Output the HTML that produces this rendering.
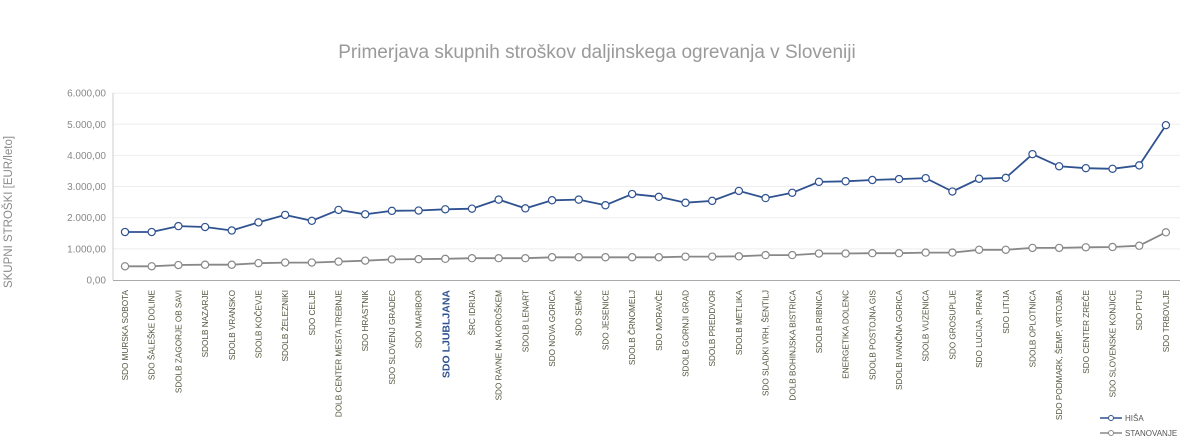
<!DOCTYPE html>
<html><head><meta charset="utf-8"><style>
html,body{margin:0;padding:0;background:#fff;}
svg{display:block;font-family:"Liberation Sans",sans-serif;}
</style></head><body>
<svg id="c" width="1200" height="445" xmlns="http://www.w3.org/2000/svg">
<text x="597" y="58" text-anchor="middle" font-size="19" fill="#9a9a9a">Primerjava skupnih stroškov daljinskega ogrevanja v Sloveniji</text>
<text transform="translate(12,212) rotate(-90)" text-anchor="middle" font-size="11.5" fill="#8a8a8a">SKUPNI STROŠKI [EUR/leto]</text>
<g id="grid"></g>
<g id="lab"></g>
<g id="ser"></g>
<g>
<line x1="1100" y1="418" x2="1122" y2="418" stroke="#2f5290" stroke-width="1.5"/><circle cx="1111" cy="418" r="2.5" fill="#fff" stroke="#2f5290"/>
<text x="1125" y="421" font-size="8" fill="#555">HIŠA</text>
<line x1="1100" y1="433" x2="1122" y2="433" stroke="#888" stroke-width="1.5"/><circle cx="1111" cy="433" r="2.5" fill="#fff" stroke="#888"/>
<text x="1125" y="436" font-size="8" fill="#555">STANOVANJE</text>
</g>
</svg>
<script>
var NS="http://www.w3.org/2000/svg";
function el(p,t,a,txt){var e=document.createElementNS(NS,t);for(var k in a)e.setAttribute(k,a[k]);if(txt!=null)e.textContent=txt;p.appendChild(e);return e;}
var y0=280,py=31.15,x0=125,dx=26.69;
function Y(v){return y0-v/1000*py;}
var g=document.getElementById("grid");
for(var i=0;i<=6;i++){var y=Y(i*1000);
 if(i>0)el(g,"line",{x1:113,x2:1180,y1:y,y2:y,stroke:"#eeeeee","stroke-width":1});
 el(g,"text",{x:106,y:y+3.5,"text-anchor":"end","font-size":"10","fill":"#888"},i==0?"0,00":i+".000,00");}
el(g,"line",{x1:113,x2:113,y1:93,y2:280,stroke:"#ccc"});
el(g,"line",{x1:113,x2:1180,y1:280.5,y2:280.5,stroke:"#aaa"});
var names=["SDO MURSKA SOBOTA","SDO ŠALEŠKE DOLINE","SDOLB ZAGORJE OB SAVI","SDOLB NAZARJE","SDOLB VRANSKO","SDOLB KOČEVJE","SDOLB ŽELEZNIKI","SDO CELJE","DOLB CENTER MESTA TREBNJE","SDO HRASTNIK","SDO SLOVENJ GRADEC","SDO MARIBOR","SDO LJUBLJANA","ŠRC IDRIJA","SDO RAVNE NA KOROŠKEM","SDOLB LENART","SDO NOVA GORICA","SDO SEMIČ","SDO JESENICE","SDOLB ČRNOMELJ","SDO MORAVČE","SDOLB GORNJI GRAD","SDOLB PREDDVOR","SDOLB METLIKA","SDO SLADKI VRH, ŠENTILJ","DOLB BOHINJSKA BISTRICA","SDOLB RIBNICA","ENERGETIKA DOLENC","SDOLB POSTOJNA GIS","SDOLB IVANČNA GORICA","SDOLB VUZENICA","SDO GROSUPLJE","SDO LUCIJA, PIRAN","SDO LITIJA","SDOLB OPLOTNICA","SDO PODMARK, ŠEMP, VRTOJBA","SDO CENTER ZREČE","SDO SLOVENSKE KONJICE","SDO PTUJ","SDO TRBOVLJE"];
var h=[1540,1540,1730,1700,1590,1850,2090,1900,2250,2110,2220,2230,2270,2290,2580,2300,2560,2580,2400,2760,2670,2480,2540,2860,2630,2800,3150,3170,3210,3240,3270,2840,3250,3280,4040,3650,3590,3570,3680,4970];
var s=[440,440,480,490,490,540,560,560,590,620,660,670,680,700,700,700,730,730,730,730,730,750,750,760,800,800,850,850,860,860,880,880,970,970,1030,1030,1050,1060,1100,1530];
var L=document.getElementById("lab");
names.forEach(function(n,i){var x=x0+i*dx;
 var lj=i==12;
 el(L,"text",{transform:"translate("+(x+(lj?4:3))+",290) rotate(-90)","text-anchor":"end","font-size":lj?"10.5":"8.2","font-weight":lj?"bold":"normal","fill":lj?"#2f5290":"#55553f"},n);});
var S=document.getElementById("ser");
[[s,"#888"],[h,"#2f5290"]].forEach(function(p){
 var d=p[0].map(function(v,i){return (i?"L":"M")+(x0+i*dx).toFixed(1)+","+Y(v).toFixed(1);}).join("");
 el(S,"path",{d:d,fill:"none",stroke:p[1],"stroke-width":1.8});
 p[0].forEach(function(v,i){el(S,"circle",{cx:x0+i*dx,cy:Y(v),r:3.6,fill:"#fff",stroke:p[1],"stroke-width":1.2});});});
</script>
</body></html>
